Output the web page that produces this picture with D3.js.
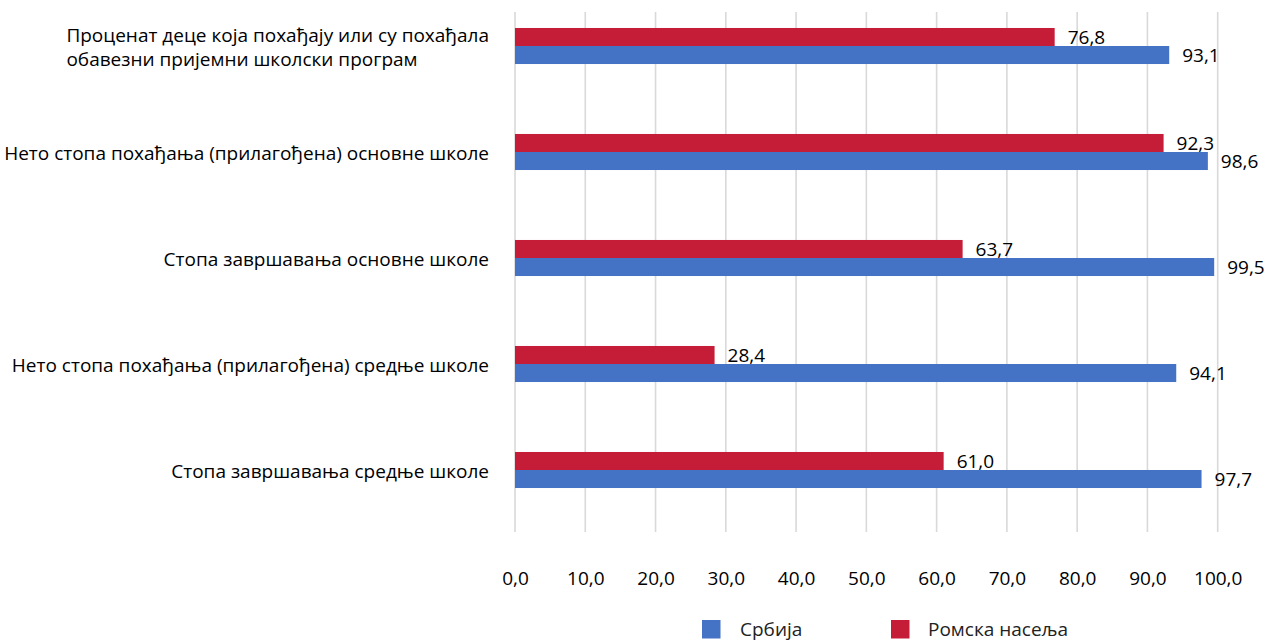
<!DOCTYPE html>
<html>
<head>
<meta charset="utf-8">
<script src="https://cdn.jsdelivr.net/npm/d3@7/dist/d3.min.js"></script>
<style>
  html, body { margin: 0; padding: 0; background: #fff; }
  svg { display: block; font-family: "Open Sans", "Noto Sans", sans-serif; }
</style>
</head>
<body>
<svg id="chart" width="1269" height="642"></svg>
<script>
const categories = [
  ["Проценат деце која похађају или су похађала", "обавезни пријемни школски програм"],
  ["Нето стопа похађања (прилагођена) основне школе"],
  ["Стопа завршавања основне школе"],
  ["Нето стопа похађања (прилагођена) средње школе"],
  ["Стопа завршавања средње школе"]
];
const seriesNames = ["Ромска насеља", "Србија"];
const romaValues = [76.8, 92.3, 63.7, 28.4, 61.0];
const serbiaValues = [93.1, 98.6, 99.5, 94.1, 97.7];
const xTicks = [0, 10, 20, 30, 40, 50, 60, 70, 80, 90, 100];
const colors = { "Србија": "#4472C4", "Ромска насеља": "#C51D38" };
const legendOrder = ["Србија", "Ромска насеља"];

const svg = d3.select("#chart");
const catKeys = categories.map((c, i) => i);

const x = d3.scaleLinear().domain([0, 100]).range([515, 1217.7]);
const y = d3.scaleBand().domain(catKeys).range([0, 516]).paddingInner(0.66).paddingOuter(0.264);
const ys = d3.scaleBand().domain(seriesNames).range([0, y.bandwidth()]).padding(0);

const fmt = v => d3.format(".1f")(v).replace(".", ",");

// gridlines
svg.append("g").selectAll("line").data(xTicks).join("line")
  .attr("x1", d => x(d)).attr("x2", d => x(d))
  .attr("y1", 12).attr("y2", 532)
  .attr("stroke", "#d9d9d9").attr("stroke-width", 1.6);

// x tick labels
const xAxis = d3.axisBottom(x).tickValues(xTicks).tickFormat(fmt).tickSize(0).tickPadding(0);
const gx = svg.append("g").attr("transform", "translate(0,571)").call(xAxis);
gx.select(".domain").remove();
gx.selectAll("text").attr("font-size", 19).attr("fill", "#000")
  .attr("font-family", "'Open Sans', sans-serif");

// bars
const rows = catKeys.map(i => ({ i, vals: [
  { s: "Ромска насеља", v: romaValues[i] },
  { s: "Србија", v: serbiaValues[i] }
]}));
const groups = svg.append("g").selectAll("g").data(rows).join("g")
  .attr("transform", d => `translate(0,${y(d.i)})`);
groups.selectAll("rect").data(d => d.vals).join("rect")
  .attr("x", x(0)).attr("y", d => ys(d.s))
  .attr("width", d => x(d.v) - x(0)).attr("height", ys.bandwidth())
  .attr("fill", d => colors[d.s]);
groups.selectAll("text.val").data(d => d.vals).join("text")
  .attr("class", "val")
  .attr("x", d => x(d.v) + 13)
  .attr("y", d => ys(d.s) + ys.bandwidth() / 2)
  .attr("dy", "0.36em")
  .attr("font-size", 19).attr("fill", "#000")
  .text(d => fmt(d.v));

// category labels
const labelRight = 489;
const lineH = 24;
const lg = svg.append("g").selectAll("text").data(rows).join("text")
  .attr("font-size", 19).attr("fill", "#000");
lg.each(function(d) {
  const lines = categories[d.i];
  const t = d3.select(this);
  const cy = y(d.i) + y.bandwidth() / 2 + 1;
  const top = cy - (lines.length - 1) * lineH / 2;
  lines.forEach((ln, k) => {
    t.append("tspan").attr("y", top + k * lineH).attr("dy", "0.36em").text(ln);
  });
  let maxW = 0;
  t.selectAll("tspan").each(function() { maxW = Math.max(maxW, this.getComputedTextLength()); });
  t.selectAll("tspan").attr("x", labelRight - maxW);
});

// legend
const legX = { "Србија": 702, "Ромска насеља": 891 };
const leg = svg.append("g").selectAll("g").data(legendOrder).join("g")
  .attr("transform", d => `translate(${legX[d]},620)`);
leg.append("rect").attr("width", 18.5).attr("height", 18.5).attr("fill", d => colors[d]);
leg.append("text").attr("x", d => d === "Србија" ? 38 : 37).attr("y", 9.5).attr("dy", "0.36em")
  .attr("font-size", 19).attr("fill", "#222").text(d => d);
</script>
</body>
</html>
